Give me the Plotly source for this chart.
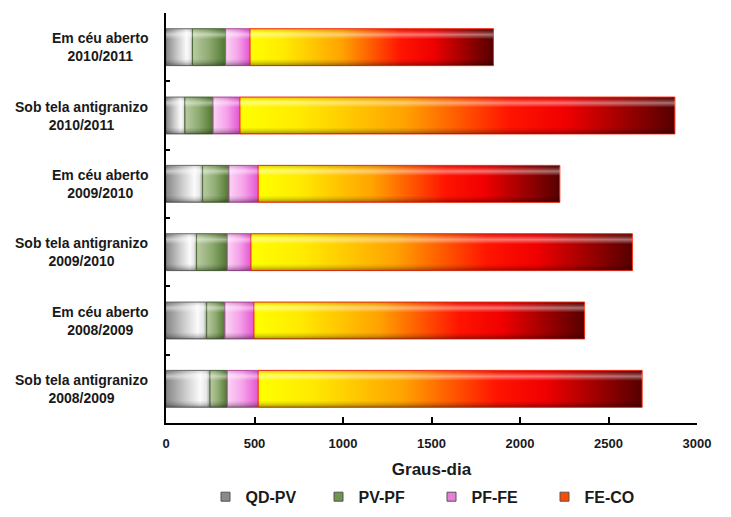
import plotly.graph_objects as go

# Phenological phase durations (growing degree-days), top row first
categories = [
    "Em céu aberto<br>2010/2011",
    "Sob tela antigranizo<br>2010/2011",
    "Em céu aberto<br>2009/2010",
    "Sob tela antigranizo<br>2009/2010",
    "Em céu aberto<br>2008/2009",
    "Sob tela antigranizo<br>2008/2009",
]
qd_pv = [150, 107, 207, 173, 230, 249]
pv_pf = [187, 159, 149, 173, 103, 97]
pf_fe = [138, 152, 165, 134, 164, 175]
fe_co = [1375, 2457, 1704, 2155, 1868, 2169]

series = [
    ("QD-PV", qd_pv,
     [[0, "#858585"], [0.45, "#cdcdcd"], [0.78, "#fbfbfb"], [0.92, "#e6e6e6"], [1, "#9a9a9a"]],
     "#6e6e6e", "#8a8a8a"),
    ("PV-PF", pv_pf,
     [[0, "#b9cba3"], [0.5, "#8eaa70"], [1, "#4e7830"]],
     "#4d6b38", "#6f9450"),
    ("PF-FE", pf_fe,
     [[0, "#fbd3f5"], [0.5, "#f6a2ea"], [1, "#e257d0"]],
     "#b84aa8", "#e77fd9"),
    ("FE-CO", fe_co,
     [[0, "#ffff00"], [0.14, "#ffea00"], [0.38, "#ffa200"], [0.62, "#ff1400"],
      [0.75, "#f00000"], [1, "#560000"]],
     "#ff2a10", "#ff4a00"),
]

n = len(categories)
ypos = [n - 1 - k for k in range(n)]
half = 0.27
font_family = "Liberation Sans, Arial, sans-serif"

fig = go.Figure()

for k in range(n):
    left = 0
    for name, values, cscale, edge, key in series:
        right = left + values[k]
        y0, y1 = ypos[k] - half, ypos[k] + half
        fig.add_trace(go.Scatter(
            x=[left, right, right, left, left],
            y=[y0, y0, y1, y1, y0],
            mode="lines",
            fill="toself",
            fillgradient=dict(type="horizontal", colorscale=cscale,
                              start=left, stop=right),
            line=dict(color=edge, width=1),
            name=name,
            showlegend=False,
            hoverinfo="skip",
        ))
        # bevel shading of each segment
        fig.add_trace(go.Scatter(
            x=[left, right, right, left, left],
            y=[y0, y0, y1, y1, y0],
            mode="lines",
            fill="toself",
            fillgradient=dict(type="vertical", colorscale=[
                [0, "rgba(0,0,0,0.38)"], [0.1, "rgba(0,0,0,0.12)"],
                [0.18, "rgba(0,0,0,0)"], [0.72, "rgba(255,255,255,0)"],
                [0.84, "rgba(255,255,255,0.45)"], [0.9, "rgba(255,255,255,0.2)"],
                [1, "rgba(0,0,0,0.12)"]], start=y0, stop=y1),
            line=dict(width=0),
            showlegend=False,
            hoverinfo="skip",
        ))
        left = right

# legend keys: small square swatches
for name, values, cscale, edge, key in series:
    fig.add_trace(go.Scatter(
        x=[None], y=[None], mode="markers", name=name,
        marker=dict(symbol="square", size=9, color=key,
                    line=dict(color="#555555", width=1)),
        hoverinfo="skip",
    ))

for k, label in enumerate(categories):
    fig.add_annotation(
        x=0, xref="paper", y=ypos[k], yref="y",
        xanchor="right", yanchor="middle", xshift=-16,
        text=label, align="center", showarrow=False,
        font=dict(family=font_family, size=14, color="#1a1a1a", weight="bold"),
    )

fig.update_layout(
    width=731, height=517,
    margin=dict(l=166, r=34, t=13, b=94, autoexpand=False),
    paper_bgcolor="white", plot_bgcolor="white",
    showlegend=True,
    legend=dict(orientation="h", x=0.5, xanchor="center", y=-0.18, yanchor="middle",
                font=dict(family=font_family, size=16, color="#1a1a1a", weight="bold"),
                itemwidth=30, entrywidth=68, entrywidthmode="pixels",
                tracegroupgap=0),
    xaxis=dict(
        range=[0, 3000], dtick=500, tick0=0,
        showline=True, linecolor="black", linewidth=1.5,
        ticks="inside", ticklen=6, tickcolor="black", tickwidth=1.5,
        showgrid=False, zeroline=False, automargin=False,
        ticklabelstandoff=8,
        tickfont=dict(family=font_family, size=13, color="#1a1a1a", weight="bold"),
        title=dict(text="Graus-dia", standoff=13,
                   font=dict(family=font_family, size=17, color="#1a1a1a", weight="bold")),
    ),
    yaxis=dict(
        range=[-0.5, n - 0.5],
        tickmode="array", tickvals=[i - 0.5 for i in range(n + 1)],
        showticklabels=False,
        showline=True, linecolor="black", linewidth=1.5,
        ticks="inside", ticklen=4, tickcolor="black", tickwidth=1.5,
        showgrid=False, zeroline=False, automargin=False,
    ),
)

fig.write_html("out.html")
